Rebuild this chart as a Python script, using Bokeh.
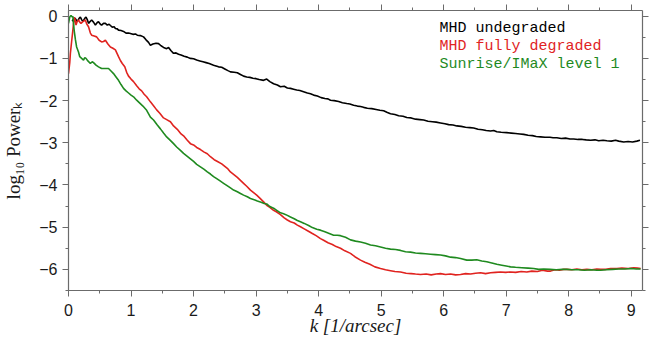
from bokeh.plotting import figure
from bokeh.models import Label, LinearAxis, Range1d, FixedTicker
from bokeh.embed import file_html
from bokeh.resources import INLINE

# ---------------- data ----------------
k_undegraded = [0.06, 0.09, 0.11, 0.14, 0.17, 0.19, 0.21, 0.23, 0.26, 0.28, 0.30, 0.32, 0.35, 0.37, 0.40, 0.43,
                0.46, 0.48, 0.51, 0.53, 0.56, 0.59, 0.62, 0.65, 0.67, 0.70, 0.73, 0.75, 0.78, 0.80, 0.84, 0.88,
                0.92, 0.96, 0.99, 1.03, 1.07, 1.10, 1.15, 1.20, 1.24, 1.28, 1.31, 1.35, 1.40, 1.44, 1.48, 1.52,
                1.57, 1.60, 1.64, 1.68, 1.72, 1.76, 1.80, 1.85, 1.90, 1.95, 2.00, 2.05, 2.10, 2.15, 2.20, 2.25,
                2.32, 2.40, 2.45, 2.50, 2.55, 2.59, 2.65, 2.70, 2.75, 2.80, 2.85, 2.90, 2.95, 3.00, 3.05, 3.12,
                3.17, 3.22, 3.28, 3.34, 3.39, 3.45, 3.50, 3.55, 3.60, 3.65, 3.70, 3.76, 3.82, 3.87, 3.92, 3.98,
                4.04, 4.10, 4.15, 4.19, 4.25, 4.32, 4.38, 4.45, 4.50, 4.56, 4.62, 4.67, 4.72, 4.78, 4.85, 4.92,
                4.98, 5.04, 5.10, 5.15, 5.22, 5.28, 5.35, 5.41, 5.48, 5.55, 5.62, 5.68, 5.75, 5.82, 5.88, 5.95,
                6.02, 6.08, 6.15, 6.21, 6.28, 6.35, 6.42, 6.48, 6.55, 6.62, 6.68, 6.75, 6.80, 6.85, 6.92, 7.01,
                7.08, 7.15, 7.22, 7.28, 7.35, 7.42, 7.48, 7.55, 7.62, 7.70, 7.75, 7.81, 7.88, 7.95, 8.02, 8.08,
                8.15, 8.22, 8.28, 8.35, 8.42, 8.48, 8.55, 8.61, 8.68, 8.75, 8.80, 8.88, 8.95, 9.02, 9.09, 9.14]
p_undegraded = [-0.12, -0.04, -0.06, -0.13, -0.05, -0.02, -0.08, -0.13, -0.05, -0.02, -0.08, -0.17, -0.12, -0.09,
                -0.14, -0.21, -0.15, -0.13, -0.19, -0.21, -0.17, -0.17, -0.21, -0.19, -0.22, -0.26, -0.25, -0.29,
                -0.30, -0.33, -0.34, -0.36, -0.40, -0.40, -0.41, -0.43, -0.42, -0.45, -0.46, -0.49, -0.56, -0.62,
                -0.69, -0.66, -0.64, -0.65, -0.70, -0.74, -0.77, -0.74, -0.82, -0.88, -0.87, -0.90, -0.92, -0.95,
                -0.97, -1.00, -1.01, -1.04, -1.06, -1.08, -1.10, -1.12, -1.16, -1.20, -1.21, -1.25, -1.29, -1.32,
                -1.33, -1.34, -1.38, -1.42, -1.44, -1.45, -1.47, -1.48, -1.50, -1.52, -1.49, -1.55, -1.60, -1.63,
                -1.67, -1.66, -1.70, -1.71, -1.73, -1.75, -1.76, -1.79, -1.82, -1.84, -1.87, -1.89, -1.93, -1.95,
                -1.96, -1.99, -2.00, -2.02, -2.05, -2.07, -2.08, -2.11, -2.13, -2.14, -2.16, -2.18, -2.19, -2.21,
                -2.23, -2.24, -2.28, -2.31, -2.33, -2.36, -2.37, -2.40, -2.41, -2.44, -2.45, -2.46, -2.49, -2.50,
                -2.51, -2.53, -2.55, -2.57, -2.58, -2.60, -2.61, -2.63, -2.64, -2.65, -2.68, -2.69, -2.71, -2.72,
                -2.71, -2.74, -2.75, -2.76, -2.77, -2.78, -2.79, -2.80, -2.82, -2.83, -2.85, -2.86, -2.87, -2.87,
                -2.88, -2.88, -2.90, -2.89, -2.91, -2.91, -2.92, -2.92, -2.93, -2.94, -2.93, -2.95, -2.94, -2.95,
                -2.96, -2.94, -2.96, -2.98, -2.97, -2.98, -2.96, -2.94]

k_degraded = [0.00, 0.02, 0.03, 0.05, 0.07, 0.09, 0.10, 0.12, 0.14, 0.16, 0.18, 0.20, 0.23, 0.25, 0.27, 0.29,
              0.32, 0.35, 0.37, 0.41, 0.45, 0.49, 0.53, 0.56, 0.59, 0.63, 0.67, 0.71, 0.75, 0.80, 0.83, 0.86,
              0.90, 0.93, 0.96, 1.00, 1.04, 1.09, 1.13, 1.17, 1.21, 1.25, 1.31, 1.36, 1.41, 1.46, 1.52, 1.57,
              1.63, 1.68, 1.74, 1.80, 1.85, 1.90, 1.95, 2.00, 2.05, 2.11, 2.17, 2.22, 2.27, 2.33, 2.39, 2.45,
              2.50, 2.55, 2.59, 2.65, 2.70, 2.75, 2.80, 2.85, 2.91, 2.96, 3.01, 3.06, 3.12, 3.17, 3.22, 3.28,
              3.33, 3.39, 3.45, 3.50, 3.55, 3.61, 3.66, 3.71, 3.77, 3.83, 3.90, 3.96, 4.03, 4.08, 4.15, 4.22,
              4.28, 4.35, 4.42, 4.51, 4.58, 4.67, 4.74, 4.82, 4.90, 4.99, 5.07, 5.15, 5.22, 5.31, 5.40, 5.48,
              5.55, 5.63, 5.72, 5.80, 5.88, 5.95, 6.03, 6.11, 6.19, 6.27, 6.35, 6.43, 6.51, 6.59, 6.67, 6.75,
              6.83, 6.91, 6.99, 7.07, 7.15, 7.24, 7.33, 7.41, 7.50, 7.58, 7.66, 7.71, 7.78, 7.85, 7.92, 7.97,
              8.05, 8.13, 8.21, 8.29, 8.37, 8.45, 8.51, 8.59, 8.67, 8.77, 8.85, 8.95, 9.04, 9.10, 9.15]
p_degraded = [-1.36, -1.10, -0.88, -0.60, -0.33, -0.03, -0.05, -0.21, -0.12, -0.09, -0.14, -0.17, -0.13, -0.11,
              -0.09, -0.18, -0.25, -0.40, -0.45, -0.47, -0.49, -0.57, -0.61, -0.60, -0.57, -0.66, -0.73, -0.76,
              -0.80, -0.96, -1.05, -1.12, -1.20, -1.33, -1.42, -1.49, -1.55, -1.65, -1.72, -1.77, -1.85, -1.91,
              -2.03, -2.12, -2.22, -2.30, -2.41, -2.45, -2.50, -2.60, -2.68, -2.79, -2.85, -2.94, -3.02, -3.05,
              -3.11, -3.16, -3.22, -3.26, -3.33, -3.40, -3.45, -3.50, -3.56, -3.62, -3.69, -3.76, -3.82, -3.89,
              -3.96, -4.03, -4.12, -4.18, -4.24, -4.31, -4.40, -4.48, -4.53, -4.60, -4.64, -4.70, -4.78, -4.83,
              -4.87, -4.90, -4.95, -4.99, -5.04, -5.09, -5.15, -5.20, -5.27, -5.31, -5.37, -5.41, -5.46, -5.50,
              -5.56, -5.62, -5.70, -5.78, -5.83, -5.88, -5.94, -5.98, -6.01, -6.03, -6.05, -6.06, -6.09, -6.10,
              -6.11, -6.12, -6.11, -6.13, -6.11, -6.10, -6.12, -6.11, -6.13, -6.12, -6.10, -6.11, -6.09, -6.08,
              -6.10, -6.08, -6.07, -6.06, -6.07, -6.06, -6.07, -6.05, -6.06, -6.04, -6.05, -6.02, -6.04, -6.04,
              -6.01, -6.02, -6.00, -6.00, -6.01, -5.99, -6.01, -6.00, -6.01, -5.99, -6.00, -6.00, -5.98, -5.98,
              -5.97, -5.98, -5.96, -5.97, -5.98]

k_imax = [0.00, 0.02, 0.04, 0.06, 0.07, 0.09, 0.11, 0.13, 0.16, 0.18, 0.21, 0.24, 0.26, 0.28, 0.31, 0.35,
          0.38, 0.40, 0.44, 0.48, 0.53, 0.58, 0.64, 0.68, 0.72, 0.76, 0.80, 0.84, 0.88, 0.92, 0.96, 1.00,
          1.04, 1.09, 1.14, 1.19, 1.25, 1.31, 1.36, 1.42, 1.47, 1.52, 1.57, 1.62, 1.68, 1.73, 1.79, 1.84,
          1.90, 1.95, 2.00, 2.05, 2.11, 2.17, 2.22, 2.27, 2.32, 2.37, 2.43, 2.48, 2.53, 2.59, 2.64, 2.70,
          2.75, 2.80, 2.86, 2.91, 2.97, 3.02, 3.08, 3.13, 3.17, 3.22, 3.28, 3.33, 3.39, 3.44, 3.50, 3.55,
          3.61, 3.66, 3.71, 3.77, 3.84, 3.90, 3.97, 4.03, 4.10, 4.17, 4.24, 4.30, 4.35, 4.43, 4.51, 4.59,
          4.67, 4.75, 4.83, 4.91, 4.99, 5.07, 5.15, 5.23, 5.31, 5.39, 5.47, 5.55, 5.63, 5.71, 5.79, 5.87,
          5.95, 6.03, 6.11, 6.19, 6.27, 6.37, 6.45, 6.53, 6.61, 6.69, 6.77, 6.85, 6.93, 7.00, 7.07, 7.15,
          7.25, 7.35, 7.44, 7.52, 7.60, 7.70, 7.80, 7.90, 7.97, 8.05, 8.15, 8.25, 8.35, 8.45, 8.51, 8.60,
          8.70, 8.80, 8.90, 9.00, 9.08, 9.15]
p_imax = [-0.17, -0.02, 0.02, -0.02, 0.00, -0.33, -0.55, -0.73, -0.85, -0.96, -1.00, -1.04, -0.98, -1.00,
          -1.06, -1.12, -1.08, -1.10, -1.16, -1.20, -1.24, -1.24, -1.24, -1.30, -1.36, -1.44, -1.52, -1.62,
          -1.71, -1.77, -1.82, -1.87, -1.91, -1.99, -2.06, -2.13, -2.23, -2.39, -2.46, -2.58, -2.67, -2.77,
          -2.86, -2.93, -3.02, -3.10, -3.18, -3.25, -3.32, -3.38, -3.44, -3.51, -3.57, -3.63, -3.69, -3.74,
          -3.80, -3.85, -3.91, -3.96, -4.01, -4.07, -4.12, -4.16, -4.20, -4.24, -4.28, -4.32, -4.35, -4.38,
          -4.41, -4.44, -4.45, -4.51, -4.55, -4.60, -4.66, -4.68, -4.72, -4.76, -4.80, -4.84, -4.87, -4.91,
          -4.96, -5.01, -5.05, -5.07, -5.11, -5.15, -5.19, -5.19, -5.20, -5.24, -5.30, -5.33, -5.35, -5.38,
          -5.42, -5.44, -5.47, -5.50, -5.52, -5.53, -5.55, -5.58, -5.59, -5.61, -5.62, -5.63, -5.64, -5.65,
          -5.66, -5.68, -5.71, -5.72, -5.74, -5.78, -5.78, -5.77, -5.80, -5.82, -5.85, -5.88, -5.90, -5.92,
          -5.94, -5.95, -5.96, -5.97, -5.98, -6.00, -5.99, -6.00, -6.01, -6.00, -6.00, -6.01, -6.01, -6.02,
          -6.01, -6.02, -6.02, -6.01, -6.00, -5.99, -5.99, -5.98, -5.99, -5.99]

series_names = ["MHD undegraded", "MHD fully degraded", "Sunrise/IMaX level 1"]
series_colors = ["#000000", "#e0231f", "#1f8a1f"]
x_ticks = [0, 1, 2, 3, 4, 5, 6, 7, 8, 9]
y_ticks = [-6, -5, -4, -3, -2, -1, 0]
x_label = "k [1/arcsec]"
y_label = "log\u2081\u2080 Power\u2096"

# ---------------- layout ----------------
W, H = 657, 345
LEFT, RIGHT, TOP, BOTTOM = 68, 15, 10, 55
X0, X1 = 0.0, 9.18
Y0, Y1 = -6.5, 0.135

p = figure(width=W, height=H, output_backend="svg", toolbar_location=None,
           x_range=Range1d(X0, X1), y_range=Range1d(Y0, Y1),
           min_border_left=LEFT, min_border_right=RIGHT, min_border_top=TOP, min_border_bottom=BOTTOM)
p.outline_line_color = None
p.xgrid.visible = False
p.ygrid.visible = False
p.background_fill_color = "white"
p.border_fill_color = "white"

AX_COLOR = "#6b6b6b"

def style_axis(ax, labels=True):
    ax.axis_line_color = AX_COLOR
    ax.axis_line_width = 1.2
    ax.major_tick_line_color = AX_COLOR
    ax.minor_tick_line_color = AX_COLOR
    ax.major_tick_in = 0
    ax.major_tick_out = 6
    ax.minor_tick_in = 0
    ax.minor_tick_out = 3
    if labels:
        ax.major_label_text_font = "Liberation Sans"
        ax.major_label_text_font_size = "16px"
        ax.major_label_text_color = "#1a1a1a"
    else:
        ax.major_label_text_font_size = "1px"
        ax.major_label_text_color = None
        ax.major_label_standoff = 0

xt = FixedTicker(ticks=x_ticks, minor_ticks=[i * 0.5 for i in range(0, 19)])
yt = FixedTicker(ticks=y_ticks, minor_ticks=[-6.5 + i * 0.5 for i in range(0, 14)])

xa = p.xaxis[0]
ya = p.yaxis[0]
xa.ticker = xt
ya.ticker = yt
style_axis(xa)
style_axis(ya)
xa.major_label_standoff = 7
ya.major_label_standoff = 5

xa.axis_label = x_label
xa.axis_label_text_font = "Liberation Serif"
xa.axis_label_text_font_style = "italic"
xa.axis_label_text_font_size = "19px"
xa.axis_label_text_color = "#1a1a1a"
xa.axis_label_standoff = -4

ya.axis_label = y_label
ya.axis_label_text_font = "Liberation Serif"
ya.axis_label_text_font_style = "normal"
ya.axis_label_text_font_size = "19px"
ya.axis_label_text_color = "#1a1a1a"
ya.axis_label_standoff = 12

top_ax = LinearAxis(ticker=xt)
right_ax = LinearAxis(ticker=yt)
style_axis(top_ax, labels=False)
style_axis(right_ax, labels=False)
p.add_layout(top_ax, "above")
p.add_layout(right_ax, "right")

for kk, pp, c in zip([k_undegraded, k_degraded, k_imax], [p_undegraded, p_degraded, p_imax], series_colors):
    p.line(kk, pp, line_color=c, line_width=1.6)

# pixel -> data helpers for legend text placement
FW = W - LEFT - RIGHT
FH = H - TOP - BOTTOM
def dx(px):
    return X0 + (px - LEFT) * (X1 - X0) / FW
def dy(py):
    return Y1 - (py - TOP) * (Y1 - Y0) / FH

leg_base = [27.5, 45.7, 64.0]
for name, c, b in zip(series_names, series_colors, leg_base):
    p.add_layout(Label(x=dx(439), y=dy(b), text=name, text_color=c,
                       text_font="Liberation Mono", text_font_size="15px",
                       text_baseline="alphabetic", text_align="left"))

open("out.html", "w").write(file_html(p, INLINE))
